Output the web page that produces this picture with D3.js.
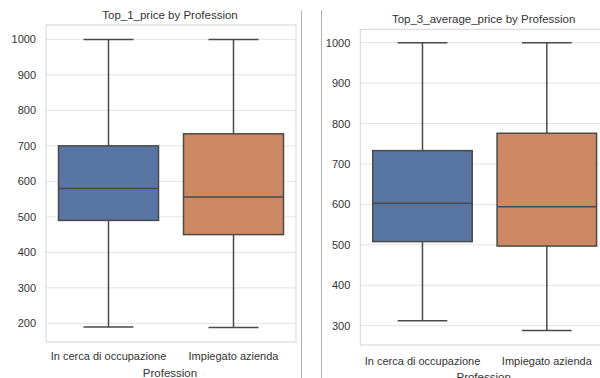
<!DOCTYPE html>
<html>
<head>
<meta charset="utf-8">
<script src="https://cdn.jsdelivr.net/npm/d3@7"></script>
<style>
  body { margin: 0; background: #fff; }
  text { font-family: "Liberation Sans", Arial, sans-serif; fill: #333; }
</style>
</head>
<body>
<div id="chart"></div>
<script>
// data
var categories = ["In cerca di occupazione", "Impiegato azienda"];
var colors = ["#5975a4", "#cc8963"];

var titles = ["Top_1_price by Profession", "Top_3_average_price by Profession"];

// [min, q1, median, q3, max] per category
var top1Stats = [
  [190, 490, 580, 700, 1000],
  [188, 450, 556, 734, 1000]
];
var top3Stats = [
  [312, 508, 603, 733, 1000],
  [288, 497, 594, 776, 1000]
];

var top1Ticks = [200, 300, 400, 500, 600, 700, 800, 900, 1000];
var top3Ticks = [300, 400, 500, 600, 700, 800, 900, 1000];

var width = 600;
var height = 378;

var svg = d3.select("#chart")
  .append("svg")
  .attr("width", width)
  .attr("height", height);

// the two screenshot borders between panels
svg.append("line").attr("x1", 301.5).attr("x2", 301.5).attr("y1", 10).attr("y2", height)
  .attr("stroke", "#b0b0b0").attr("stroke-width", 1);
svg.append("line").attr("x1", 321.5).attr("x2", 321.5).attr("y1", 10).attr("y2", height)
  .attr("stroke", "#b0b0b0").attr("stroke-width", 1);

var panels = [
  { title: titles[0], stats: top1Stats, ticks: top1Ticks, domain: [147.4, 1040.6],
    left: 46, right: 296, top: 25, bottom: 342, titleY: 19, labelY: 360, xTitleY: 377 },
  { title: titles[1], stats: top3Stats, ticks: top3Ticks, domain: [252.3, 1033.1],
    left: 360.3, right: 609, top: 29.3, bottom: 345, titleY: 23, labelY: 365, xTitleY: 381 }
];

panels.forEach(drawPanel);

function drawPanel(p) {
  var g = svg.append("g");

  var x = d3.scaleBand()
    .domain(categories)
    .range([p.left, p.right]);

  var y = d3.scaleLinear()
    .domain(p.domain)
    .range([p.bottom, p.top]);

  // grid
  g.selectAll(".grid")
    .data(p.ticks)
    .enter().append("line")
    .attr("x1", p.left).attr("x2", p.right)
    .attr("y1", function(d) { return y(d); })
    .attr("y2", function(d) { return y(d); })
    .attr("stroke", "#e4e4e4")
    .attr("stroke-width", 1);

  // frame
  g.append("rect")
    .attr("x", p.left).attr("y", p.top)
    .attr("width", p.right - p.left).attr("height", p.bottom - p.top)
    .attr("fill", "none")
    .attr("stroke", "#d6d6d6")
    .attr("stroke-width", 1);

  // y axis labels
  var yAxis = d3.axisLeft(y).tickValues(p.ticks).tickFormat(d3.format("d"))
    .tickSize(0).tickPadding(10);
  var ya = g.append("g").attr("transform", "translate(" + p.left + ",0)").call(yAxis);
  ya.select(".domain").remove();
  ya.selectAll("text").style("font-size", "11px").attr("fill", "#333");

  // boxes
  var boxW = x.bandwidth() * 0.8;
  var capW = boxW / 2;
  p.stats.forEach(function(s, i) {
    var cx = x(categories[i]) + x.bandwidth() / 2;
    var wc = "#4a4a4a";
    // whiskers
    g.append("line").attr("x1", cx).attr("x2", cx).attr("y1", y(s[3])).attr("y2", y(s[4]))
      .attr("stroke", wc).attr("stroke-width", 1.5);
    g.append("line").attr("x1", cx).attr("x2", cx).attr("y1", y(s[1])).attr("y2", y(s[0]))
      .attr("stroke", wc).attr("stroke-width", 1.5);
    // caps
    [s[0], s[4]].forEach(function(v) {
      g.append("line").attr("x1", cx - capW / 2).attr("x2", cx + capW / 2)
        .attr("y1", y(v)).attr("y2", y(v))
        .attr("stroke", wc).attr("stroke-width", 1.5);
    });
    // box
    g.append("rect")
      .attr("x", cx - boxW / 2).attr("width", boxW)
      .attr("y", y(s[3])).attr("height", y(s[1]) - y(s[3]))
      .attr("fill", colors[i])
      .attr("stroke", wc).attr("stroke-width", 1.5);
    // median
    g.append("line").attr("x1", cx - boxW / 2).attr("x2", cx + boxW / 2)
      .attr("y1", y(s[2])).attr("y2", y(s[2]))
      .attr("stroke", wc).attr("stroke-width", 1.5);
  });

  // category labels
  var xAxis = d3.axisBottom(x).tickSize(0).tickPadding(0);
  var xa = g.append("g").attr("transform", "translate(0," + (p.labelY - 8) + ")").call(xAxis);
  xa.select(".domain").remove();
  xa.selectAll("text").style("font-size", "11px").attr("fill", "#333");

  g.append("text")
    .attr("x", (p.left + p.right) / 2 - 1)
    .attr("y", p.xTitleY)
    .attr("text-anchor", "middle")
    .style("font-size", "11.5px")
    .text("Profession");

  g.append("text")
    .attr("x", (p.left + p.right) / 2 - 1)
    .attr("y", p.titleY)
    .attr("text-anchor", "middle")
    .style("font-size", "11.5px")
    .text(p.title);
}
</script>
</body>
</html>
